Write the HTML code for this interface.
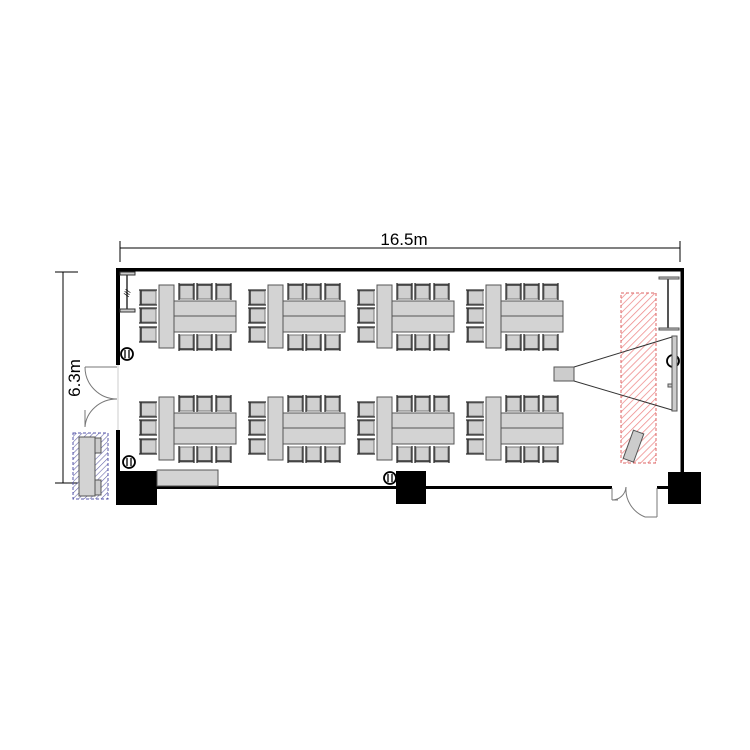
<!DOCTYPE html>
<html><head><meta charset="utf-8"><style>body{margin:0;background:#fff}svg{display:block}</style></head><body>
<svg width="750" height="750" viewBox="0 0 750 750" xmlns="http://www.w3.org/2000/svg">
<defs>
<pattern id="red" patternUnits="userSpaceOnUse" width="5" height="5" patternTransform="rotate(45)"><line x1="0" y1="0" x2="0" y2="5" stroke="#e88" stroke-width="1.5"/></pattern>
<pattern id="blue" patternUnits="userSpaceOnUse" width="4" height="4" patternTransform="rotate(45)"><line x1="0" y1="0" x2="0" y2="4" stroke="#66a" stroke-width="1.2"/></pattern>
<g id="ch"><rect x="1" y="1" width="13" height="15" fill="#d0d0d0" stroke="#777" stroke-width="1"/><line x1="0" y1="0" x2="0" y2="17" stroke="#333" stroke-width="1.3"/><line x1="15" y1="0" x2="15" y2="17" stroke="#333" stroke-width="1.3"/><line x1="0" y1="2" x2="15" y2="2" stroke="#333" stroke-width="1.5"/></g>
<g id="chL"><rect x="1" y="1" width="16" height="13" fill="#d0d0d0" stroke="#777" stroke-width="1"/><line x1="0" y1="0" x2="18" y2="0" stroke="#333" stroke-width="1.3"/><line x1="0" y1="15" x2="18" y2="15" stroke="#333" stroke-width="1.3"/><line x1="2" y1="0" x2="2" y2="15" stroke="#333" stroke-width="1.5"/></g>
<g id="grp">
<use href="#chL" x="139" y="290"/><use href="#chL" x="139" y="308"/><use href="#chL" x="139" y="327"/>
<use href="#ch" x="179" y="283"/><use href="#ch" x="197" y="283"/><use href="#ch" x="216" y="283"/>
<g transform="translate(0,634) scale(1,-1)"><use href="#ch" x="179" y="283"/><use href="#ch" x="197" y="283"/><use href="#ch" x="216" y="283"/></g>
<rect x="174" y="301" width="62" height="31" fill="#d3d3d3" stroke="#555"/>
<line x1="174" y1="316" x2="236" y2="316" stroke="#555"/>
<rect x="159" y="285" width="15" height="63" fill="#d3d3d3" stroke="#555"/>
</g>
</defs>
<!-- dimensions -->
<line x1="120" y1="248" x2="680" y2="248" stroke="#000"/>
<line x1="120" y1="241" x2="120" y2="262" stroke="#000"/>
<line x1="680" y1="241" x2="680" y2="262" stroke="#000"/>
<text x="404" y="245" font-family="Liberation Sans,sans-serif" font-size="17" text-anchor="middle">16.5m</text>
<line x1="63" y1="272" x2="63" y2="483" stroke="#000"/>
<line x1="55" y1="272" x2="78" y2="272" stroke="#000"/>
<line x1="55" y1="483" x2="78" y2="483" stroke="#000"/>
<text x="0" y="0" font-family="Liberation Sans,sans-serif" font-size="17" text-anchor="middle" transform="translate(80,378) rotate(-90)">6.3m</text>
<!-- groups -->
<use href="#grp"/><use href="#grp" x="109"/><use href="#grp" x="218"/><use href="#grp" x="327"/>
<use href="#grp" y="112"/><use href="#grp" x="109" y="112"/><use href="#grp" x="218" y="112"/><use href="#grp" x="327" y="112"/>
<!-- walls -->
<rect x="116" y="268" width="568" height="3.5" fill="#000"/>
<rect x="116" y="268" width="4" height="97" fill="#000"/>
<rect x="116" y="430" width="4" height="56" fill="#000"/>
<rect x="680.5" y="268" width="3.5" height="205" fill="#000"/>
<rect x="116" y="486" width="496" height="3" fill="#000"/>
<rect x="657" y="486" width="27" height="3" fill="#000"/>
<line x1="118" y1="365" x2="118" y2="430" stroke="#ccc"/>
<rect x="116" y="471" width="41" height="34" fill="#000"/>
<rect x="396" y="471" width="30" height="33" fill="#000"/>
<rect x="668" y="472" width="33" height="32" fill="#000"/>
<rect x="157" y="470" width="61" height="16" fill="#d3d3d3" stroke="#555"/>
<!-- doors -->
<g fill="none" stroke="#777">
<line x1="85" y1="367" x2="117" y2="367"/><path d="M85 367 A32 32 0 0 0 117 399"/>
<line x1="85" y1="427" x2="85" y2="410"/><path d="M85 427 A32 30 0 0 1 117 399"/>
<line x1="612" y1="488" x2="612" y2="500"/><line x1="612" y1="500" x2="618" y2="500"/><path d="M612 500 A14 14 0 0 0 626 487"/>
<line x1="657" y1="488" x2="657" y2="517"/><line x1="657" y1="517" x2="645" y2="517"/><path d="M645 517 A31 30 0 0 1 626 487"/>
</g>
<!-- left items -->
<g stroke="#333" fill="#ccc">
<rect x="120" y="272" width="15" height="3"/><rect x="120" y="309" width="15" height="3"/>
<line x1="127" y1="275" x2="127" y2="309" stroke-width="1.5"/>
</g>
<text x="127" y="296" font-family="Liberation Sans,sans-serif" font-size="8" text-anchor="middle" transform="rotate(-70 127 293)">///</text>
<g fill="#fff" stroke="#000" stroke-width="1.8">
<circle cx="127" cy="354" r="6"/><circle cx="129" cy="462" r="6"/><circle cx="390" cy="478" r="6"/><circle cx="673" cy="361" r="6"/>
</g>
<g stroke="#000" stroke-width="1.3"><line x1="125" y1="350" x2="125" y2="358"/><line x1="129" y1="350" x2="129" y2="358"/><line x1="127" y1="458" x2="127" y2="466"/><line x1="131" y1="458" x2="131" y2="466"/><line x1="388" y1="474" x2="388" y2="482"/><line x1="392" y1="474" x2="392" y2="482"/></g>
<!-- blue box -->
<rect x="73" y="433" width="35" height="66" fill="url(#blue)" stroke="#55a" stroke-dasharray="3,2"/>
<rect x="79" y="437" width="16" height="59" fill="#d3d3d3" stroke="#555"/>
<rect x="95" y="438" width="6" height="15" fill="#ccc" stroke="#555"/>
<rect x="95" y="480" width="6" height="15" fill="#ccc" stroke="#555"/>
<!-- right area -->
<rect x="621" y="293" width="35" height="170" fill="url(#red)" stroke="#d66" stroke-dasharray="3,2"/>
<g stroke="#555" fill="#ccc">
<rect x="659" y="277" width="20" height="2"/><rect x="659" y="328" width="20" height="2"/>
<line x1="668" y1="279" x2="668" y2="328" stroke-width="2"/>
<rect x="554" y="367" width="20" height="14"/>
<rect x="672" y="336" width="5" height="75"/>
<rect x="668" y="384" width="4" height="3"/>
<rect x="628" y="431" width="11" height="30" transform="rotate(20 633 446)"/>
</g>
<g stroke="#333" fill="none"><line x1="574" y1="367" x2="672" y2="337"/><line x1="574" y1="381" x2="672" y2="410"/></g>
</svg>
</body></html>
